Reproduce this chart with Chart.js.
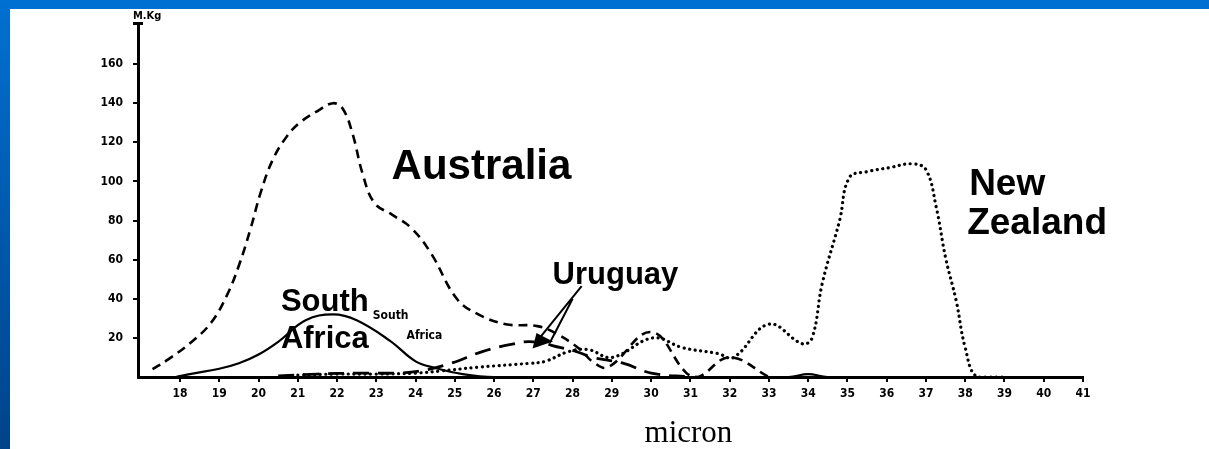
<!DOCTYPE html>
<html>
<head>
<meta charset="utf-8">
<script src="https://cdn.jsdelivr.net/npm/chart.js@4.4.1/dist/chart.umd.min.js"></script>
<style>
    html, body { margin: 0; padding: 0; background: #ffffff; }
    #woolChart { display: block; }
</style>
</head>
<body>
<canvas id="woolChart" width="1209" height="449"></canvas>
<script>
// --- DATA (micron vs M.Kg) ---
const australiaMicron = [17.3, 17.7, 18.3, 18.8, 19.2, 19.5, 19.8, 20.05, 20.36, 20.72, 21.05, 21.5, 21.9, 22.15, 22.4, 22.65, 22.95, 23.4, 23.9, 24.4, 25.05, 25.6, 26.3, 27.1, 27.6, 28.2, 28.5, 28.9, 30.0, 30.9, 31.2, 32.0, 33.0];
const australiaKg     = [4, 9, 18, 28, 42, 57, 76, 94, 111, 123, 130, 136, 140, 137, 124, 104, 89, 83, 76, 63, 40, 32, 27, 26, 22, 14, 8, 5, 23, 2, 0, 10, 0];

const southAfricaMicron = [17.9, 18.25, 19.0, 19.5, 20.0, 20.5, 21.2, 21.9, 22.5, 23.35, 24.0, 24.5, 25.2, 26.0, 33.5, 34.0, 34.5, 41.0];
const southAfricaKg     = [0, 1.5, 4.2, 7, 11.5, 18, 29, 32, 29, 18.5, 8, 4.6, 1.5, 0, 0, 1.5, 0, 0];

const uruguayMicron = [20.5, 21.5, 22.5, 23.5, 24.1, 24.9, 25.7, 26.5, 27.0, 27.7, 28.1, 28.5, 29.3, 30.0, 31.0];
const uruguayKg     = [0.5, 1.5, 2, 2, 3, 7, 13, 17, 18, 15, 13, 10, 7, 2, 0];

const newZealandMicron = [21.0, 22.0, 23.0, 24.0, 24.6, 25.6, 26.9, 27.3, 27.9, 28.4, 29.0, 30.05, 30.8, 31.7, 32.1, 33.0, 33.85, 34.1, 34.36, 34.8, 35.05, 35.5, 36.06, 36.65, 37.0, 37.26, 37.5, 37.77, 38.0, 38.3, 39.0];
const newZealandKg     = [1, 1.5, 1.5, 2, 3, 5, 7, 8, 13, 14, 10, 20, 15, 12, 10, 27, 17, 20, 48, 80, 102, 105, 107, 109, 106, 87, 61, 39, 15, 0, 0];

const xTickValues = [18, 19, 20, 21, 22, 23, 24, 25, 26, 27, 28, 29, 30, 31, 32, 33, 34, 35, 36, 37, 38, 39, 40, 41];
const yTickValues = [20, 40, 60, 80, 100, 120, 140, 160];

// text labels placed in data units (micron, M.Kg)
const countryLabels = [
    { text: 'Australia',   x: 23.39, y: 101,  font: 'bold 42px "Liberation Sans", Arial, sans-serif' },
    { text: 'New',         x: 38.1,  y: 93.3, font: 'bold 37px "Liberation Sans", Arial, sans-serif' },
    { text: 'Zealand',     x: 38.05, y: 73,   font: 'bold 37px "Liberation Sans", Arial, sans-serif' },
    { text: 'Uruguay',     x: 27.49, y: 47.5, font: 'bold 31px "Liberation Sans", Arial, sans-serif' },
    { text: 'South',       x: 20.57, y: 33.8, font: 'bold 31px "Liberation Sans", Arial, sans-serif' },
    { text: 'Africa',      x: 20.57, y: 14.9, font: 'bold 31px "Liberation Sans", Arial, sans-serif' },
    { text: 'South',       x: 22.91, y: 29.7, font: 'bold 12px "DejaVu Sans Condensed", "DejaVu Sans", sans-serif' },
    { text: 'Africa',      x: 23.77, y: 19.5, font: 'bold 12px "DejaVu Sans Condensed", "DejaVu Sans", sans-serif' }
];

const toPoints = (xs, ys) => xs.map((x, i) => ({ x: x, y: ys[i] }));

// --- 1. PLUGINS: slide frame + annotations ---
const slideFrame = {
    id: 'slideFrame',
    beforeDraw(chart) {
        const c = chart.ctx;
        c.save();
        c.fillStyle = '#ffffff';
        c.fillRect(0, 0, chart.width, chart.height);
        c.fillStyle = '#0070d2';
        c.fillRect(0, 0, chart.width, 9);
        const g = c.createLinearGradient(0, 0, 0, chart.height);
        g.addColorStop(0, '#0070d2');
        g.addColorStop(1, '#00438a');
        c.fillStyle = g;
        c.fillRect(0, 0, 10, chart.height);
        c.restore();
    }
};

const annotations = {
    id: 'annotations',
    afterDraw(chart) {
        const c = chart.ctx;
        const xs = chart.scales.x, ys = chart.scales.y;
        const px = v => xs.getPixelForValue(v);
        const py = v => ys.getPixelForValue(v);
        c.save();
        c.fillStyle = '#000';
        c.textBaseline = 'alphabetic';
        c.textAlign = 'left';
        countryLabels.forEach(l => {
            c.font = l.font;
            c.fillText(l.text, px(l.x), py(l.y));
        });

        // axis unit + title
        c.font = 'bold 11px "DejaVu Sans Condensed", "DejaVu Sans", sans-serif';
        c.fillText('M.Kg', chart.chartArea.left - 5, chart.chartArea.top - 4);
        c.font = '31px "Liberation Serif", "Times New Roman", serif';
        c.textAlign = 'center';
        c.fillText('micron', px(30.95), chart.chartArea.bottom + 65);

        // small cap on top of the y axis
        c.fillRect(chart.chartArea.left - 5, chart.chartArea.top - 1, 10, 3);

        // hollow arrow from "Uruguay" to its curve
        c.strokeStyle = '#000';
        c.lineWidth = 2;
        c.beginPath();
        c.moveTo(px(28.23), py(46.5));
        c.lineTo(px(27.12), py(19));
        c.moveTo(px(28.0), py(40));
        c.lineTo(px(27.42), py(17.5));
        c.stroke();
        c.beginPath();
        c.moveTo(px(26.98), py(14.6));
        c.lineTo(px(27.08), py(22.5));
        c.lineTo(px(27.5), py(18.2));
        c.closePath();
        c.fill();
        c.restore();
    }
};

// --- 2. CHART ---
document.addEventListener('DOMContentLoaded', function() {
    const ctx = document.getElementById('woolChart').getContext('2d');
    const baseLine = {
        borderColor: '#000',
        backgroundColor: '#000',
        pointRadius: 0,
        fill: false,
        tension: 0.4
    };

    new Chart(ctx, {
        type: 'line',
        data: {
            datasets: [
                { ...baseLine, label: 'Australia', data: toPoints(australiaMicron, australiaKg), borderWidth: 2.6, borderDash: [9, 6] },
                { ...baseLine, label: 'South Africa', data: toPoints(southAfricaMicron, southAfricaKg), borderWidth: 2.2 },
                { ...baseLine, label: 'Uruguay', data: toPoints(uruguayMicron, uruguayKg), borderWidth: 2.8, borderDash: [16, 9] },
                { ...baseLine, label: 'New Zealand', data: toPoints(newZealandMicron, newZealandKg), borderWidth: 3.2, borderDash: [0.1, 5.5], borderCapStyle: 'round' }
            ]
        },
        options: {
            responsive: false,
            animation: false,
            layout: { padding: { left: 98, right: 126, top: 23, bottom: 42 } },
            plugins: {
                legend: { display: false },
                tooltip: { enabled: false }
            },
            scales: {
                x: {
                    type: 'linear',
                    min: 16.93,
                    max: 41,
                    afterFit: s => { s.height = 30; },
                    afterBuildTicks: s => { s.ticks = xTickValues.map(v => ({ value: v })); },
                    border: { display: true, color: '#000', width: 3 },
                    grid: { drawOnChartArea: false, drawTicks: true, tickLength: 5, color: '#000', lineWidth: 2 },
                    ticks: {
                        color: '#000',
                        padding: 5,
                        maxRotation: 0,
                        autoSkip: false,
                        font: { family: '"DejaVu Sans Condensed", "DejaVu Sans", sans-serif', size: 12, weight: 'bold' }
                    }
                },
                y: {
                    min: 0,
                    max: 181,
                    afterFit: s => { s.width = 40; },
                    afterBuildTicks: s => { s.ticks = yTickValues.map(v => ({ value: v })); },
                    border: { display: true, color: '#000', width: 3 },
                    grid: { drawOnChartArea: false, drawTicks: true, tickLength: 5, color: '#000', lineWidth: 2 },
                    ticks: {
                        color: '#000',
                        padding: 10,
                        font: { family: '"DejaVu Sans Condensed", "DejaVu Sans", sans-serif', size: 12, weight: 'bold' }
                    }
                }
            }
        },
        plugins: [slideFrame, annotations]
    });
});
</script>
</body>
</html>
